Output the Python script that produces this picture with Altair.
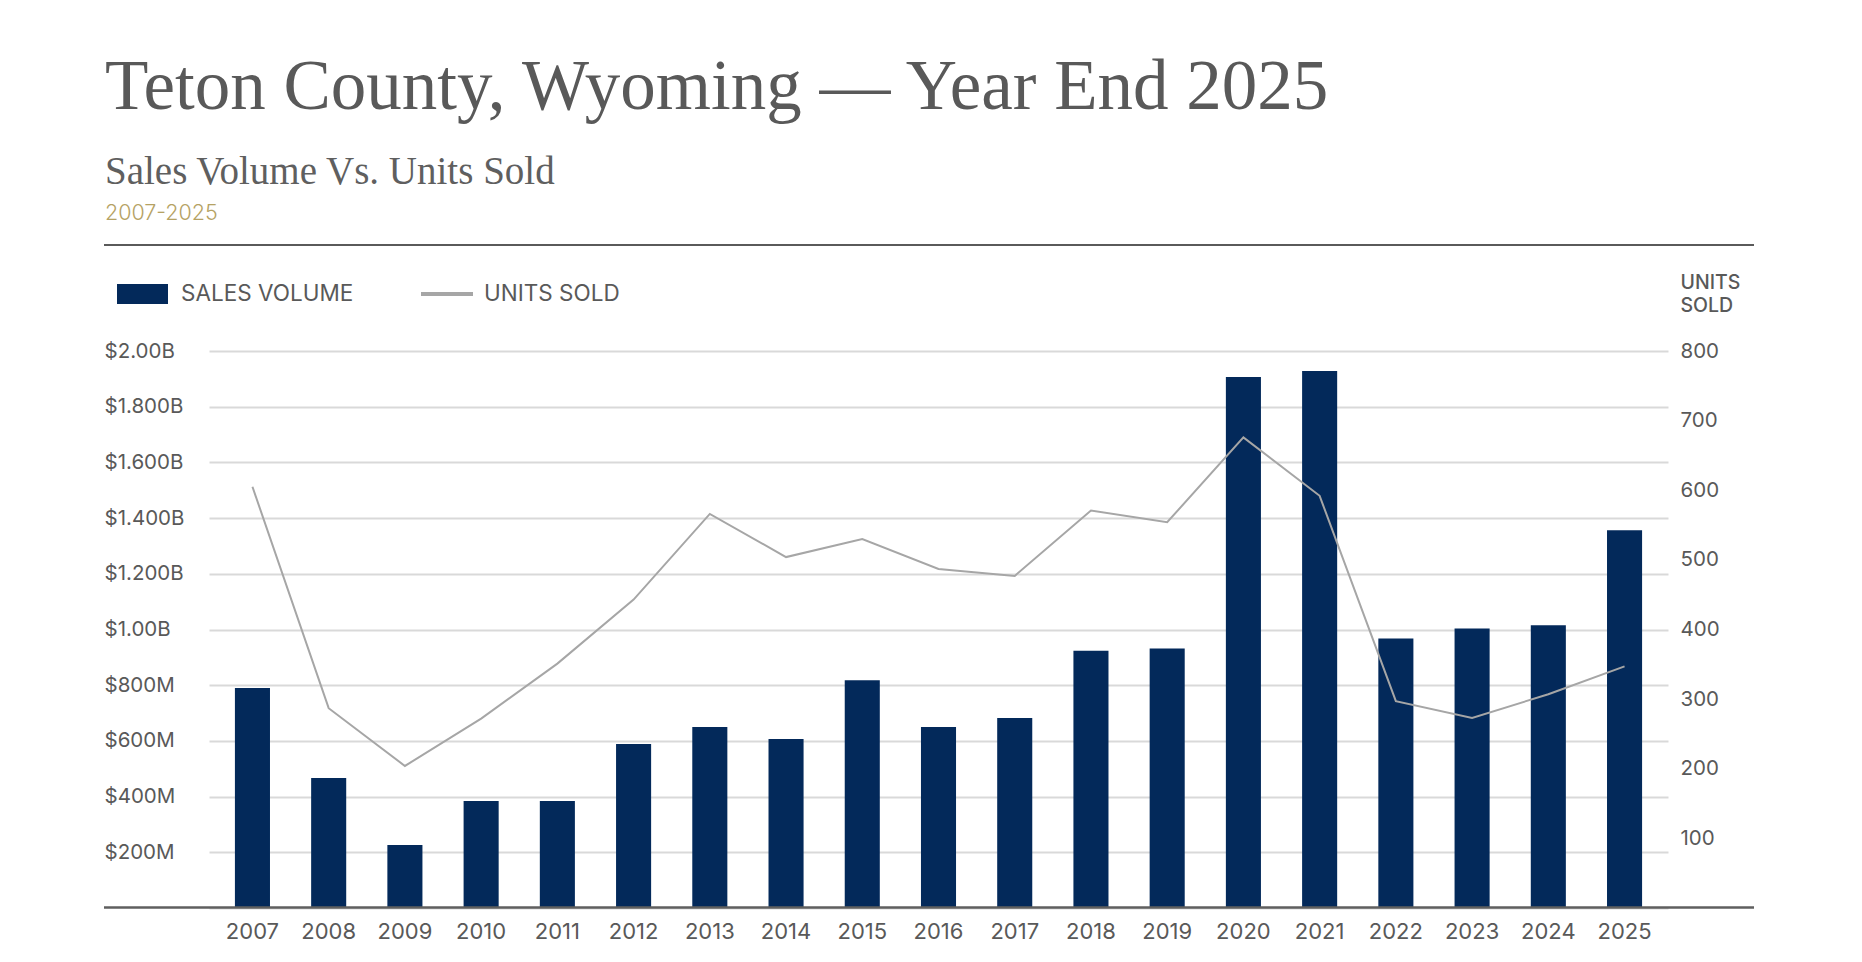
import altair as alt
import pandas as pd

# ---- data ----
years = [2007, 2008, 2009, 2010, 2011, 2012, 2013, 2014, 2015, 2016,
         2017, 2018, 2019, 2020, 2021, 2022, 2023, 2024, 2025]
sales_volume_m = [790, 467, 226, 384, 384, 589, 650, 607, 818, 650,
                  682, 924, 932, 1907, 1928, 968, 1004, 1015, 1356]
units_sold = [605, 287, 204, 272, 351, 443, 566, 504, 530, 487,
              477, 571, 554, 676, 592, 297, 273, 307, 347]
left_ticks = list(range(0, 2001, 200))
right_ticks = list(range(100, 801, 100))

NAVY = "#03295a"
LINE_GRAY = "#a6a6a6"
TEXT_GRAY = "#595959"
GOLD = "#b5a264"
SANS = "Inter"
SERIF = "Liberation Serif"

W, H = 1459, 557

df = pd.DataFrame({"year": years, "volume": sales_volume_m, "units": units_sold})
one = alt.Data(values=[{}])

x_enc = alt.X(
    "year:O",
    scale=alt.Scale(paddingInner=0.54, paddingOuter=0.34),
    axis=alt.Axis(title=None, labelAngle=0, ticks=False, domain=False, grid=False,
                  labelPadding=13.5, labelFont=SANS, labelFontSize=22,
                  labelColor=TEXT_GRAY),
)

bars = alt.Chart(df).transform_calculate(s="'SALES VOLUME'").mark_bar(color=NAVY).encode(
    x=x_enc,
    y=alt.Y(
        "volume:Q",
        scale=alt.Scale(domain=[0, 2000], nice=False),
        axis=alt.Axis(
            orient="left", title=None, values=left_ticks, grid=True,
            gridColor="#d9d9d9", gridWidth=2, domain=False, ticks=False, tickSize=0,
            labelAlign="left", labelPadding=105, labelFont=SANS, labelFontSize=20.5,
            labelColor=TEXT_GRAY,
            labelExpr="datum.value == 0 ? '' : datum.value >= 1000 ? '$' + format(datum.value / 1000, datum.value % 1000 == 0 ? '.2f' : '.3f') + 'B' : '$' + datum.value + 'M'",
        ),
    ),
    fill=alt.Fill(
        "s:N",
        scale=alt.Scale(domain=["SALES VOLUME"], range=[NAVY]),
        legend=alt.Legend(
            title=None, orient="none", legendX=-92, legendY=-82.5,
            symbolType="M-1,-0.392H1V0.392H-1Z", symbolSize=2601,
            symbolStrokeWidth=0, labelOffset=13, labelFont=SANS,
            labelFontSize=22.5, labelColor=TEXT_GRAY, labelLimit=400, padding=0,
        ),
    ),
)

line = alt.Chart(df).transform_calculate(s2="'UNITS SOLD'").mark_line(strokeWidth=2).encode(
    x=x_enc,
    y=alt.Y(
        "units:Q",
        scale=alt.Scale(domain=[0, 800], nice=False),
        axis=alt.Axis(
            orient="right", values=right_ticks, grid=False, domain=False,
            ticks=False, tickSize=0, labelPadding=12, labelFont=SANS,
            labelFontSize=20.5, labelColor=TEXT_GRAY,
            title=["UNITS", "SOLD"], titleAngle=0, titleAlign="left",
            titleBaseline="top", titleX=12, titleY=-78, titleFont=SANS,
            titleFontSize=19.5, titleFontWeight=500, titleColor=TEXT_GRAY,
            titleLineHeight=23,
        ),
    ),
    stroke=alt.Stroke(
        "s2:N",
        scale=alt.Scale(domain=["UNITS SOLD"], range=[LINE_GRAY]),
        legend=alt.Legend(
            title=None, orient="none", legendX=210, legendY=-85,
            symbolType="stroke", symbolSize=2704, symbolStrokeWidth=4,
            labelOffset=9, labelFont=SANS, labelFontSize=22.5,
            labelColor=TEXT_GRAY, labelLimit=400, padding=0,
        ),
    ),
)

top_rule = alt.Chart(one).mark_rule(color="#5a5a5a", strokeWidth=2).encode(
    x=alt.value(-105), x2=alt.value(1545), y=alt.value(-106)
)
base_rule = alt.Chart(one).mark_rule(color="#5f5f5f", strokeWidth=2.5).encode(
    x=alt.value(-105), x2=alt.value(1545), y=alt.value(556.5)
)
years_text = alt.Chart(one).mark_text(
    text="2007-2025", font=SANS, fontSize=21.5, fontWeight=300, color=GOLD,
    align="left", baseline="alphabetic",
).encode(x=alt.value(-104), y=alt.value(-131))

chart = (
    alt.layer(top_rule, years_text, bars, line, base_rule)
    .resolve_scale(y="independent", fill="independent", stroke="independent")
    .properties(
        width=W, height=H,
        title=alt.TitleParams(
            text="Teton County, Wyoming \u2014 Year End 2025",
            subtitle="Sales Volume Vs. Units Sold",
            anchor="start", frame="group", dx=-104, offset=10,
            font=SERIF, fontSize=71, fontWeight="normal", color=TEXT_GRAY,
            subtitleFont=SERIF, subtitleFontSize=39, subtitleColor="#5f5f5f",
            subtitlePadding=29,
        ),
        autosize=alt.AutoSizeParams(type="none"),
        padding={"left": 201, "top": 343, "right": 180, "bottom": 45},
        background="white",
    )
    .configure_view(stroke=None)
)

chart.save("out.html", embed_options={"renderer": "svg", "actions": False})
